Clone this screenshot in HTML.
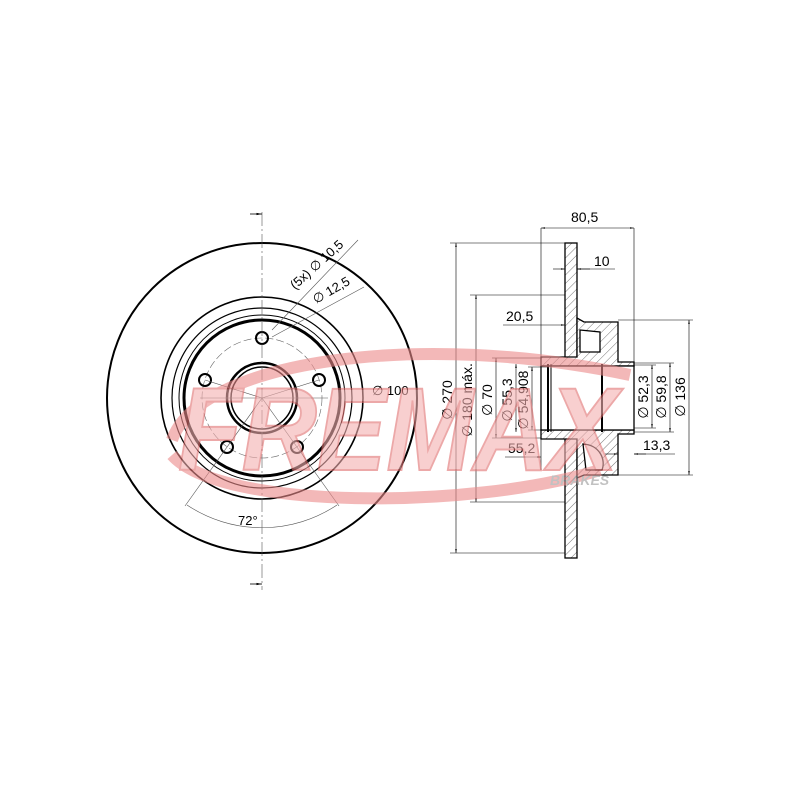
<!DOCTYPE html>
<html><head><meta charset="utf-8"><style>body{margin:0;background:#fff}svg{display:block}</style></head><body>
<svg width="800" height="800" viewBox="0 0 800 800" xmlns="http://www.w3.org/2000/svg" font-family="Liberation Sans, sans-serif">
<defs>
<pattern id="h" width="6" height="6" patternUnits="userSpaceOnUse" patternTransform="rotate(45)">
<rect width="6" height="6" fill="#fff"/><line x1="0" y1="0" x2="0" y2="6" stroke="#555" stroke-width="0.8"/></pattern>
<marker id="a" viewBox="0 0 10 10" refX="10" refY="5" markerWidth="7" markerHeight="7" orient="auto-start-reverse"><path d="M0,3 L10,5 L0,7z" fill="#000"/></marker>
</defs>
<!-- left disc -->
<g fill="none" stroke="#000">
<circle cx="262" cy="398" r="155" stroke-width="2"/>
<circle cx="262" cy="398" r="101" stroke-width="1.6"/>
<circle cx="262" cy="398" r="90" stroke-width="1.2"/>
<circle cx="262" cy="398" r="83" stroke-width="1"/>
<circle cx="262" cy="398" r="78" stroke-width="3"/>
<circle cx="262" cy="398" r="60" stroke-width="0.6" stroke-dasharray="8,3" stroke="#666"/>
<circle cx="262" cy="398" r="35" stroke-width="2.5"/>
<circle cx="262" cy="398" r="31" stroke-width="1.5"/>
<g stroke-width="2">
<circle cx="262" cy="338" r="6"/><circle cx="319" cy="380" r="6"/><circle cx="297" cy="447" r="6"/><circle cx="227" cy="447" r="6"/><circle cx="205" cy="380" r="6"/>
</g>
<g stroke-width="0.6" stroke="#555">
<line x1="262" y1="212" x2="262" y2="590" stroke-dasharray="14,3,2,3"/>
<line x1="200" y1="398" x2="328" y2="398"/>
<line x1="262" y1="398" x2="319" y2="380"/><line x1="262" y1="398" x2="205" y2="380"/>
<line x1="262" y1="398" x2="185" y2="506"/><line x1="262" y1="398" x2="339" y2="506"/>
<line x1="272" y1="330" x2="358" y2="240"/><line x1="272" y1="337" x2="364" y2="287"/>
<path d="M187,505 A135,135 0 0 0 337,505"/>
</g>
<line x1="250" y1="214" x2="262" y2="214" stroke-width="0.8" marker-end="url(#a)"/>
<line x1="250" y1="584" x2="262" y2="584" stroke-width="0.8" marker-end="url(#a)"/>
</g>
<text x="295" y="290" font-size="13" transform="rotate(-42 295 290)">(5x) ∅ 10,5</text>
<text x="316" y="304" font-size="13" transform="rotate(-30 316 304)">∅ 12,5</text>
<text x="372" y="395" font-size="13">∅ 100</text>
<text x="238" y="525" font-size="13">72°</text>
<!-- right section -->
<g stroke="#000" stroke-width="1.3">
<rect x="565" y="243" width="12" height="315" fill="url(#h)"/>
<polygon points="541,357 577,357 577,318 584,322 618,322 618,362 634,362 634,366 541,366" fill="url(#h)"/>
<polygon points="541,439 577,439 577,478 584,475 618,475 618,434 634,434 634,430 541,430" fill="url(#h)"/>
<rect x="541" y="366" width="93" height="64" fill="#fff"/>
<path d="M580,330 L600,332 L600,352 L580,352z" fill="#fff"/>
<path d="M583,444 C600,445 606,460 602,470 L586,470z" fill="#fff"/>
<line x1="548" y1="364" x2="548" y2="432" stroke-width="2"/>
<line x1="551" y1="364" x2="551" y2="432" stroke-width="1"/>
<line x1="602" y1="364" x2="602" y2="432" stroke-width="2"/>
</g>
<g stroke="#000" stroke-width="0.6" fill="none">
<line x1="541" y1="228" x2="541" y2="470"/><line x1="634" y1="228" x2="634" y2="362"/>
<line x1="541" y1="228" x2="634" y2="228" marker-start="url(#a)" marker-end="url(#a)"/>
<line x1="553" y1="269" x2="565" y2="269" marker-end="url(#a)"/><line x1="590" y1="269" x2="577" y2="269" marker-end="url(#a)"/><line x1="577" y1="269" x2="615" y2="269"/>
<line x1="503" y1="325" x2="565" y2="325" marker-end="url(#a)"/>
<line x1="450" y1="243" x2="565" y2="243"/><line x1="450" y1="553" x2="565" y2="553"/>
<line x1="456" y1="243" x2="456" y2="553" marker-start="url(#a)" marker-end="url(#a)"/>
<line x1="470" y1="295" x2="565" y2="295"/><line x1="470" y1="502" x2="565" y2="502"/>
<line x1="476" y1="295" x2="476" y2="502" marker-start="url(#a)" marker-end="url(#a)"/>
<line x1="492" y1="358" x2="541" y2="358"/><line x1="492" y1="438" x2="541" y2="438"/>
<line x1="496" y1="358" x2="496" y2="438" marker-start="url(#a)" marker-end="url(#a)"/>
<line x1="516" y1="364" x2="516" y2="432" marker-start="url(#a)" marker-end="url(#a)"/>
<line x1="528" y1="367" x2="548" y2="367"/><line x1="528" y1="430" x2="548" y2="430"/>
<line x1="532" y1="367" x2="532" y2="430" marker-start="url(#a)" marker-end="url(#a)"/>
<line x1="505" y1="457" x2="541" y2="457" marker-end="url(#a)"/>
<line x1="634" y1="365" x2="656" y2="365"/><line x1="634" y1="428" x2="656" y2="428"/>
<line x1="652" y1="365" x2="652" y2="428" marker-start="url(#a)" marker-end="url(#a)"/>
<line x1="634" y1="363" x2="674" y2="363"/><line x1="634" y1="432" x2="674" y2="432"/>
<line x1="670" y1="363" x2="670" y2="432" marker-start="url(#a)" marker-end="url(#a)"/>
<line x1="618" y1="320" x2="693" y2="320"/><line x1="618" y1="475" x2="693" y2="475"/>
<line x1="689" y1="320" x2="689" y2="475" marker-start="url(#a)" marker-end="url(#a)"/>
<line x1="605" y1="454" x2="618" y2="454" marker-end="url(#a)"/><line x1="646" y1="454" x2="634" y2="454" marker-end="url(#a)"/><line x1="634" y1="454" x2="675" y2="454"/>
</g>
<g font-size="14">
<text x="571" y="222">80,5</text>
<text x="594" y="266">10</text>
<text x="506" y="321">20,5</text>
<text x="508" y="453">55,2</text>
<text x="643" y="450">13,3</text>
<text transform="translate(452,400) rotate(-90)" text-anchor="middle">∅ 270</text>
<text transform="translate(472,400) rotate(-90)" text-anchor="middle">∅ 180 máx.</text>
<text transform="translate(492,400) rotate(-90)" text-anchor="middle">∅ 70</text>
<text transform="translate(512,400) rotate(-90)" text-anchor="middle">∅ 55,3</text>
<text transform="translate(528,400) rotate(-90)" text-anchor="middle">∅ 54,908</text>
<text transform="translate(648,397) rotate(-90)" text-anchor="middle">∅ 52,3</text>
<text transform="translate(666,397) rotate(-90)" text-anchor="middle">∅ 59,8</text>
<text transform="translate(685,397) rotate(-90)" text-anchor="middle">∅ 136</text>
</g>
<!-- logo on top -->
<g opacity="0.6">
<path d="M172,440 C200,360 420,330 630,375" fill="none" stroke="#ec8a8a" stroke-width="12"/>
<path d="M172,455 C220,510 470,510 600,470" fill="none" stroke="#ec8a8a" stroke-width="12"/>
<text x="178" y="470" font-size="118" font-weight="bold" font-style="italic" textLength="440" lengthAdjust="spacingAndGlyphs" fill="#f4b0b0" stroke="#e06f6f" stroke-width="2">FREMAX</text>
<text x="550" y="485" font-size="14" font-weight="bold" font-style="italic" fill="#999">BRAKES</text>
</g>
</svg>
</body></html>
